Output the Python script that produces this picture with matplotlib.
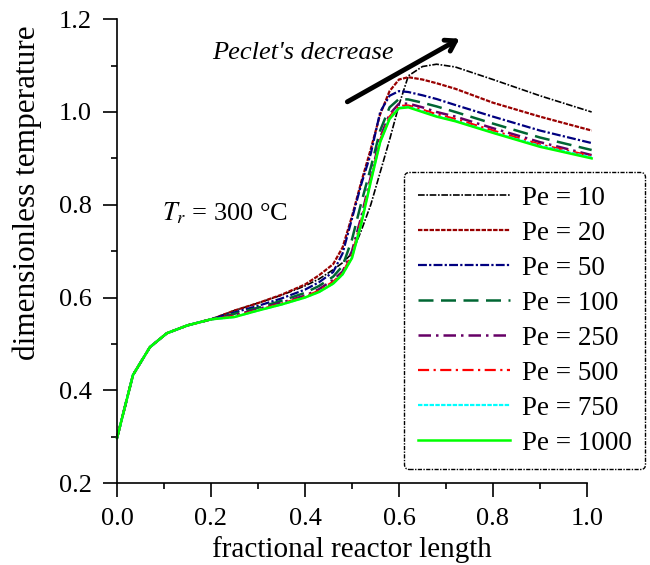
"""
    plot.py

    Dimensionless temperature along the reactor for several Peclet numbers.
"""

import matplotlib
matplotlib.use("Agg")
import matplotlib.pyplot as plt
from matplotlib.ticker import MultipleLocator

plt.rcParams['font.family'] = ['Liberation Serif', 'DejaVu Serif']
plt.rcParams['mathtext.fontset'] = 'stix'

# fractional reactor length (shared by all curves)
x_len = [0.0, 0.034, 0.07, 0.106, 0.15, 0.2, 0.25, 0.3, 0.35, 0.4, 0.43,
         0.46, 0.48, 0.5, 0.52, 0.54, 0.56, 0.58, 0.6, 0.62, 0.65, 0.68,
         0.72, 0.8, 0.9, 1.01]

start = [0.297, 0.433, 0.493, 0.523, 0.540, 0.553]

pe_10 = start + [0.572, 0.588, 0.605, 0.625, 0.640, 0.660, 0.675, 0.695,
                 0.745, 0.800, 0.870, 0.940, 1.015, 1.078, 1.098, 1.103,
                 1.097, 1.070, 1.035, 1.000]
pe_20 = start + [0.572, 0.588, 0.606, 0.628, 0.648, 0.672, 0.708, 0.775,
                 0.850, 0.920, 0.995, 1.045, 1.070, 1.075, 1.070, 1.062,
                 1.050, 1.020, 0.990, 0.960]
pe_50 = start + [0.568, 0.582, 0.598, 0.617, 0.633, 0.655, 0.695, 0.770,
                 0.845, 0.910, 1.000, 1.035, 1.045, 1.043, 1.036, 1.028,
                 1.015, 0.990, 0.960, 0.933]
pe_100 = start + [0.565, 0.578, 0.593, 0.610, 0.625, 0.645, 0.668, 0.725,
                  0.805, 0.880, 0.960, 1.010, 1.028, 1.027, 1.020, 1.012,
                  1.000, 0.975, 0.945, 0.918]
pe_250 = start + [0.562, 0.575, 0.589, 0.604, 0.618, 0.638, 0.656, 0.700,
                  0.775, 0.860, 0.945, 0.995, 1.018, 1.018, 1.010, 1.000,
                  0.990, 0.965, 0.935, 0.907]
pe_500 = start + [0.560, 0.573, 0.587, 0.602, 0.615, 0.634, 0.653, 0.692,
                  0.768, 0.855, 0.940, 0.990, 1.013, 1.014, 1.005, 0.995,
                  0.985, 0.960, 0.930, 0.905]
pe_750 = start + [0.558, 0.572, 0.585, 0.600, 0.612, 0.630, 0.650, 0.686,
                  0.762, 0.851, 0.936, 0.986, 1.009, 1.011, 1.001, 0.991,
                  0.981, 0.956, 0.927, 0.902]
pe_1000 = start + [0.558, 0.572, 0.585, 0.600, 0.612, 0.630, 0.650, 0.685,
                   0.760, 0.850, 0.935, 0.985, 1.008, 1.010, 1.000, 0.990,
                   0.980, 0.955, 0.925, 0.900]

labels = ["Pe = 10", "Pe = 20", "Pe = 50", "Pe = 100",
          "Pe = 250", "Pe = 500", "Pe = 750", "Pe = 1000"]
series = [pe_10, pe_20, pe_50, pe_100, pe_250, pe_500, pe_750, pe_1000]
colors = ["black", "#990000", "#000080", "#006633",
          "#660066", "#ff0000", "#00ffff", "#00ff00"]
styles = [(0, (4, 1, 1, 1)), (0, (2, 0.6)), (0, (4, 1, 1, 1)), (0, (6, 3)),
          (0, (5, 2, 1, 2)), (0, (5, 2, 1, 2)), (0, (2, 0.6)), "-"]
widths = [1.2, 1.6, 1.6, 1.8, 1.8, 1.6, 1.6, 1.8]

fig = plt.figure(figsize=(6.5, 5.65), dpi=100)
ax = fig.add_axes([0.18, 0.145, 0.723, 0.821])

for y, lab, c, ls, lw in zip(series, labels, colors, styles, widths):
    ax.plot(x_len, y, color=c, linestyle=ls, linewidth=lw, label=lab,
            clip_on=False)

ax.set_xlim(0.0, 1.0)
ax.set_ylim(0.2, 1.2)
ax.xaxis.set_major_locator(MultipleLocator(0.2))
ax.xaxis.set_minor_locator(MultipleLocator(0.1))
ax.yaxis.set_major_locator(MultipleLocator(0.2))
ax.yaxis.set_minor_locator(MultipleLocator(0.1))
ax.xaxis.set_major_formatter(plt.FormatStrFormatter('%.1f'))
ax.yaxis.set_major_formatter(plt.FormatStrFormatter('%.1f'))
ax.spines['top'].set_visible(False)
ax.spines['right'].set_visible(False)
for s in ('left', 'bottom'):
    ax.spines[s].set_linewidth(1.2)
ax.tick_params(which='major', direction='out', length=10, width=1.2,
               labelsize=19, pad=8)
ax.tick_params(which='minor', direction='out', length=4, width=1.2)

ax.set_xlabel("fractional reactor length", fontsize=21, labelpad=4)
ax.set_ylabel("dimensionless temperature", fontsize=22.5)
ax.yaxis.set_label_coords(-0.16, 0.627)

ax.text(0.202, 1.127, "Peclet's decrease", fontsize=19, style='italic',
        ha='left', va='center')
ax.annotate("", xy=(0.734, 1.161), xytext=(0.485, 1.019),
            arrowprops=dict(arrowstyle="->,head_length=0.7,head_width=0.45",
                            lw=3.5, color="black"))
ax.text(0.096, 0.782, r"$T_r$ = 300 °C", fontsize=19, ha='left', va='center')

leg = ax.legend(loc='upper left', bbox_to_anchor=(0.6215, 0.6956),
                bbox_transform=fig.transFigure, borderaxespad=0,
                fontsize=19.5, handlelength=3.4, labelspacing=0.37,
                handletextpad=0.45, borderpad=0.5, fancybox=True,
                framealpha=1)
frame = leg.get_frame()
frame.set_edgecolor("black")
frame.set_linestyle((0, (3, 1, 1, 1)))
frame.set_linewidth(1.0)

fig.savefig("out.png", dpi=100)
